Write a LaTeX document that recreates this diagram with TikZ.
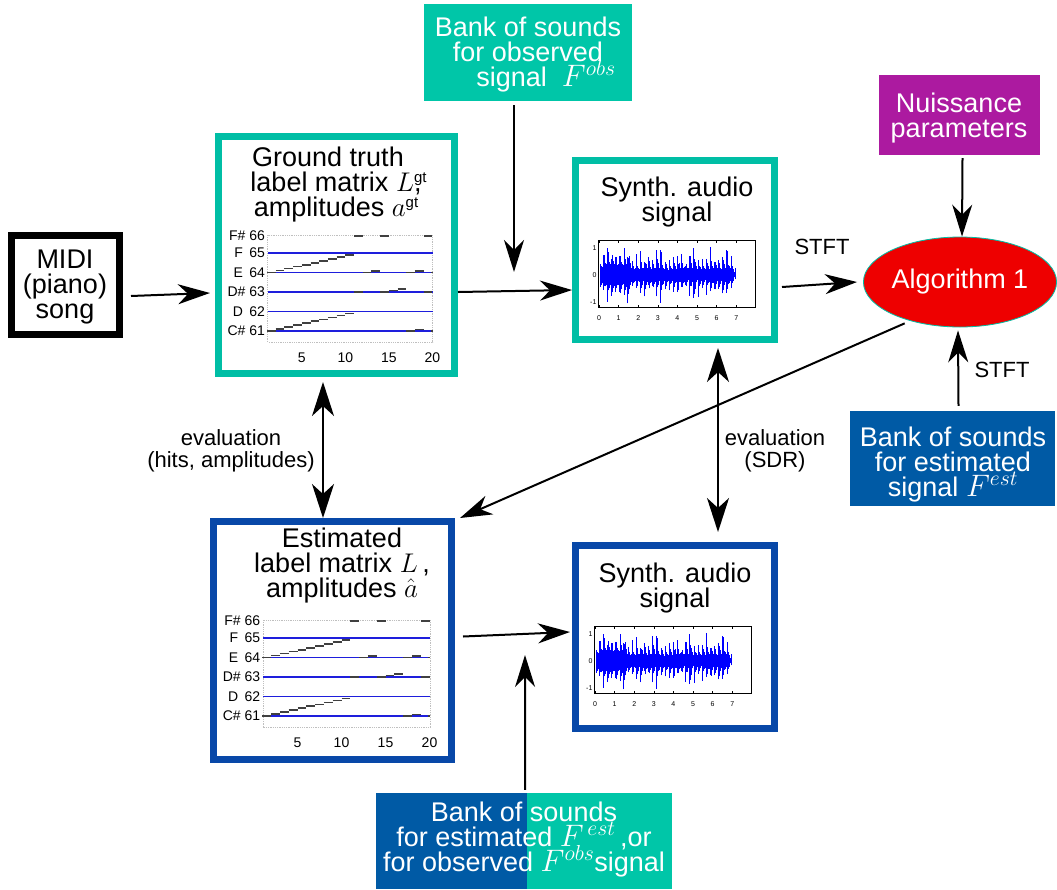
\RequirePackage{fix-cm}
\documentclass[tikz,border=0pt]{standalone}
\usepackage{graphicx}
\usepackage{fontspec}
\setmainfont{Liberation Sans}
\usetikzlibrary{arrows.meta,shapes.geometric}
\definecolor{tealB}{RGB}{0,190,165}
\definecolor{tealF}{RGB}{0,198,168}
\definecolor{blueB}{RGB}{8,72,168}
\definecolor{blueF}{RGB}{0,90,165}
\definecolor{purp}{RGB}{172,26,160}
\definecolor{algred}{RGB}{238,0,0}
\definecolor{wave}{RGB}{0,0,255}
\definecolor{rollblue}{RGB}{30,30,220}
\newcommand{\fbig}{\fontsize{27}{25}\selectfont\lineskiplimit=-30pt\lineskip=0pt}
\newcommand{\fmid}{\fontsize{22}{22}\selectfont\lineskiplimit=-30pt\lineskip=0pt}
\newcommand{\froll}{\fontsize{14}{14}\selectfont}
\newcommand{\ftiny}{\fontsize{7}{7}\selectfont}
\newcommand{\supgt}{\raisebox{9pt}{\fontsize{15}{15}\selectfont gt}}
\newcommand{\mF}[1]{\scalebox{1.15}{$F^{#1}$}}
\tikzset{
 frame/.style={draw, line width=7pt, inner sep=0pt, fill=white},
 bank/.style={inner sep=0pt},
 txt/.style={font=\fbig, align=center, inner sep=0pt},
 wtxt/.style={txt, text=white},
 small/.style={font=\fmid, align=center, inner sep=0pt},
 rollfont/.style={font=\froll, inner sep=0pt},
 note/.style={black!75, line width=1.6pt},
 arr/.style={-{Stealth[length=32pt,width=20pt,inset=10pt]}, line width=2pt},
 darr/.style={{Stealth[length=34pt,width=22pt,inset=10pt]}-{Stealth[length=34pt,width=22pt,inset=10pt]}, line width=2pt},
}
\newcommand{\pianoroll}[3]{%
\begin{scope}[shift={(#1,#2)},xscale=#3,yscale=-19.5]
\draw[gray!50,densely dotted,line width=0.8pt] (1.1,-0.56) rectangle (20.05,4.92);
\foreach \pp in {0,...,4} \draw[rollblue,line width=1.2pt] (1.1,\pp) -- (20.05,\pp);
\foreach \pp/\lab in {4.87/F\# 66,4/F\hspace{0.45em}65,3/E\hspace{0.45em}64,2/D\# 63,1/D\hspace{0.45em}62,0/C\# 61}
  \node[rollfont,anchor=east] at (0.78,\pp) {\lab};
\foreach \pp in {5,10,15,20} \node[rollfont] at (\pp,-1.38) {\pp};
\foreach \i in {1,...,10} {
 \draw[note] (\i,{(\i-1)*0.1}) -- ({\i+1},{(\i-1)*0.1});
 \draw[note] (\i,{3+(\i-1)*0.1}) -- ({\i+1},{3+(\i-1)*0.1});
}
\foreach \na/\nb/\nc in {11/12/4.88,14/15/4.88,19/20/4.88,11/12/2,12/13/3,13/14/3.08,14/15/2,15/16/2.08,16/17/2.16,17/18/0,17/18/3,18/19/0.08,18/19/3.08,19/20/2,19.8/20.1/3,19.8/20.1/0}
  \draw[note] (\na,\nc) -- (\nb,\nc);
\end{scope}}
\newcommand{\wavebox}[2]{%
\begin{scope}[shift={(#1,#2)},xscale=19.6,yscale=-27]
\pgfmathsetseed{42}
\foreach \i in {0,...,344} {
  \pgfmathsetmacro\wvt{0.05+\i*0.02}
  \pgfmathsetmacro\wve{min(1,(7.05-\wvt)*3)}
  \pgfmathsetmacro\wvc{0.2+(\wvt<1.6)*0.15}
  \pgfmathsetmacro\wvb{floor(\wvt/0.21)}
  \pgfmathsetmacro\wvp{0.4+0.6*abs(sin(\wvb*137))}
  \pgfmathsetmacro\wvs{exp(-(\wvt-\wvb*0.21)*14)}
  \pgfmathsetmacro\wvu{min(1.02,\wve*(\wvc*(0.7+0.3*rnd)+\wvs*\wvp*(0.3+0.7*rnd)))}
  \pgfmathsetmacro\wvd{min(1.1,\wve*(\wvc*(0.7+0.3*rnd)+\wvs*\wvp*0.9*(0.3+0.7*rnd)))}
  \draw[wave,line width=0.7pt] (\wvt,-\wvd) -- (\wvt,\wvu);
}
\draw[black,line width=1pt] (-0.05,-1.2) rectangle (7.96,1.28);
\foreach \k in {0,...,7} {
  \node[font=\ftiny,inner sep=0pt] at (\k,-1.6) {\k};
  \draw[line width=0.4pt] (\k,1.28) -- (\k,1.2);
  \draw[line width=0.4pt] (\k,-1.2) -- (\k,-1.12);
}
\foreach \k in {-1,0,1} \node[font=\ftiny,anchor=east,inner sep=0pt] at (-0.12,\k) {\k};
\end{scope}}
\begin{document}
\begin{tikzpicture}[x=1pt,y=-1pt]
\useasboundingbox (0,0) rectangle (1057,889);
\fill[white] (0,0) rectangle (1057,889);

% boxes
\node[frame, draw=black, minimum width=108pt, minimum height=99pt] (midi) at (65.5,285) {};
\node[frame, draw=tealB, minimum width=236pt, minimum height=237pt] (gt) at (336.5,255) {};
\node[frame, draw=blueB, minimum width=238pt, minimum height=238pt] (est) at (332.5,640.5) {};
\node[frame, draw=tealB, minimum width=199pt, minimum height=179pt] (synthtop) at (675,250) {};
\node[frame, draw=blueB, minimum width=199pt, minimum height=183pt] (synthbot) at (675,637) {};
\node[bank, fill=tealF, minimum width=208pt, minimum height=97pt] (topbank) at (528,52.5) {};
\node[bank, fill=purp, minimum width=161pt, minimum height=80pt] (nuis) at (959.5,115) {};
\node[bank, fill=blueF, minimum width=205pt, minimum height=95pt] (bankest) at (952.5,458.5) {};
\node[bank, fill=blueF, minimum width=151pt, minimum height=96pt] (bbl) at (451.5,841) {};
\node[bank, fill=tealF, minimum width=145pt, minimum height=96pt] (bbr) at (599.5,841) {};
\node[ellipse, fill=algred, draw=tealB, line width=0.8pt, minimum width=186pt, minimum height=90pt, inner sep=0pt, text=white, font=\fbig] (algo) at (960,282) {Algorithm 1};

% texts
\node[txt, anchor=north] (midit) at (65,250) {MIDI\\(piano)\\song};
\node[txt, anchor=north] (gtt) at (336,147) {Ground truth\hspace*{16pt}\\label matrix $L$\rlap{\supgt},\\ amplitudes $a$\supgt};
\node[txt, anchor=north] (estt) at (342,528) {Estimated\\label matrix $L$\,,\\ amplitudes $\hat{a}$};
\node[txt, anchor=north] (synthtopt) at (677,177) {Synth. audio\\signal};
\node[txt, anchor=north] (synthbott) at (675,563) {Synth. audio\\signal};
\node[wtxt, anchor=north] (topbankt) at (528,17) {Bank of sounds\\for observed\\\hspace*{36pt}signal\ \ \mF{obs}};
\node[wtxt, anchor=north] (nuist) at (959,93) {Nuissance\\parameters};
\node[wtxt, anchor=north] (bankestt) at (953,427) {Bank of sounds\\for estimated\\signal \mF{est}};
\node[wtxt, anchor=north] (bbt) at (524,802) {Bank of sounds\\for estimated \mF{\,est}\,,or\\for observed \mF{obs}signal};
\node[small] (stft1) at (822,247) {STFT};
\node[small] (stft2) at (1002,370) {STFT};
\node[small, anchor=north] (evl) at (231,429) {evaluation\\(hits, amplitudes)};
\node[small, anchor=north] (evr) at (775,429) {evaluation\\(SDR)};

% plots
\pianoroll{258.3}{331}{8.7}
\pianoroll{253.5}{716}{8.8}
\wavebox{599}{275}
\wavebox{595}{661}

% connectors
\coordinate (j1) at (514,272);
\coordinate (j2) at (525,655);
\draw[arr] ([xshift=8pt,yshift=-11pt]midi.east) -- ([xshift=-5pt,yshift=-38pt]gt.west);
\draw[arr] ([yshift=-37pt]gt.east) -- ([yshift=-40pt]synthtop.west);
\draw[arr] ([xshift=-14pt,yshift=-4pt]topbank.south) -- (j1);
\draw[arr] ([xshift=4pt,yshift=-37pt]synthtop.east) -- ([xshift=-6pt]algo.west);
\draw[arr] ([xshift=3pt,yshift=-3pt]nuis.south) -- ([xshift=2pt]algo.north);
\draw[arr] ([xshift=6pt,yshift=5pt]bankest.north) -- ([xshift=-2pt,yshift=-3pt]algo.south);
\draw[arr, shorten <=6pt] (algo.218) -- ([xshift=5pt]est.north east);
\draw[darr] ([xshift=-13.5pt,yshift=-5pt]gt.south) -- ([xshift=-9.5pt]est.north);
\draw[darr] ([xshift=43pt,yshift=-5pt]synthtop.south) -- ([xshift=43pt,yshift=10pt]synthbot.north);
\draw[arr] ([xshift=8pt,yshift=4pt]est.east) -- ([xshift=-2pt,yshift=5pt]synthbot.west);
\draw[arr] ([xshift=-2pt,yshift=3pt]bbl.north east) -- (j2);
\end{tikzpicture}
\end{document}
